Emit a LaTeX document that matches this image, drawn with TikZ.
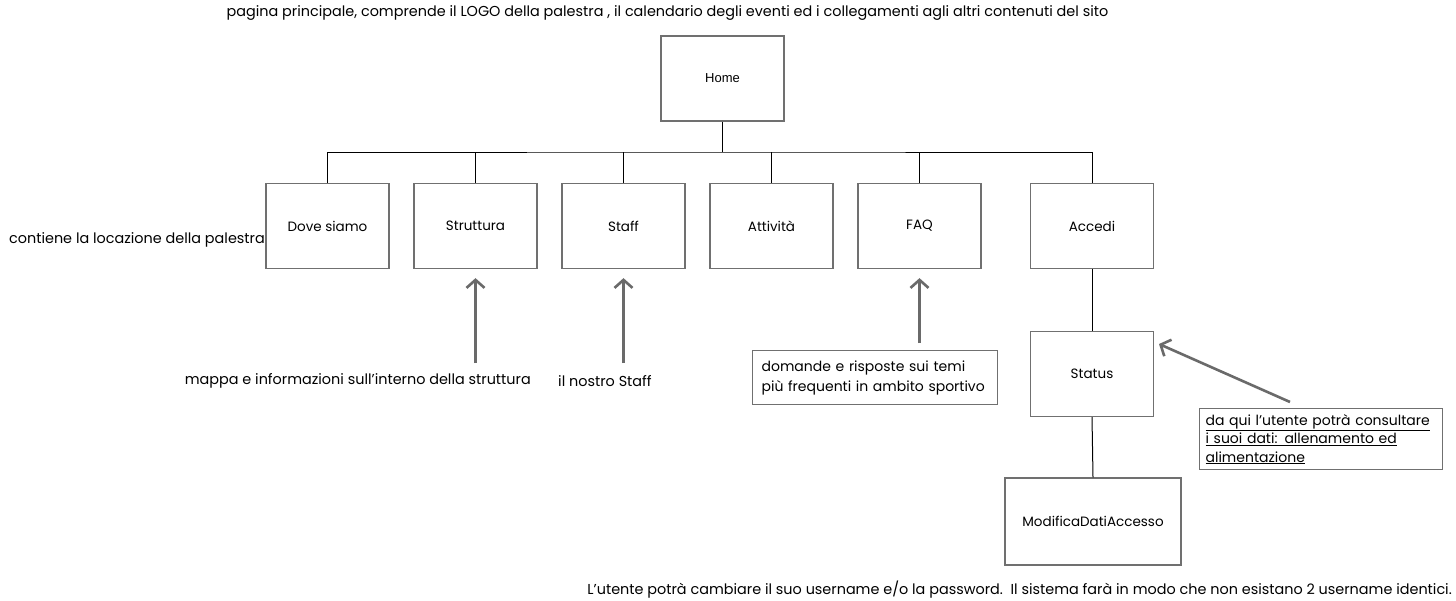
\documentclass[tikz,border=0pt]{standalone}
\usepackage{fontspec}
\setmainfont{Poppins}
\newfontfamily\homefont{Liberation Sans}
\usetikzlibrary{arrows.meta}
\definecolor{boxgray}{HTML}{707070}
\definecolor{arrgray}{HTML}{6A6A6A}
\begin{document}
\begin{tikzpicture}[x=1pt,y=-1pt,
  pg/.style={draw=boxgray,line width=1.3pt,minimum width=123pt,minimum height=85pt,inner sep=0pt,font=\fontsize{13.5}{15}\selectfont,fill=white},
  lbl/.style={inner sep=0pt,font=\fontsize{14.4}{16}\selectfont},
  note/.style={draw=boxgray,line width=1.2pt,inner xsep=9pt,inner ysep=5pt,align=left,font=\fontsize{14}{20}\selectfont},
  link/.style={black,line width=1pt},
  callout/.style={arrgray,line width=2.6pt,-{Straight Barb[length=8pt,width=18pt,line width=2.6pt]}}]
\useasboundingbox[fill=white] (0,0) rectangle (1456,600);
% pages
\node[pg,font=\homefont\fontsize{13}{15}\selectfont] (home) at (722.5,78.5) {Home};
\node[pg] (dove) at (327.5,226) {Dove siamo};
\node[pg] (strut) at (475.5,226) {Struttura};
\node[pg] (staff) at (623.5,226) {Staff};
\node[pg] (att) at (771.5,226) {Attività};
\node[pg] (faq) at (919.5,226) {FAQ};
\node[pg] (acc) at (1092,226) {Accedi};
\node[pg] (status) at (1092,374) {Status};
\node[pg,minimum width=176pt,minimum height=87pt] (mod) at (1093,521.5) {ModificaDatiAccesso};
% bus
\coordinate (bus) at (722.5,152);
\draw[link] (home.south) -- (bus);
\draw[link] (dove.north) |- (bus) -| (acc.north);
\foreach \n in {strut,staff,att,faq}{\draw[link] (\n.north) -- (\n.north |- bus);}
\draw[link] (acc.south) -- (status.north);
\draw[link] (status.south) -- (mod.north);
% labels
\node[lbl,anchor=center] (ttop) at (667.5,13) {pagina principale, comprende il LOGO della palestra , il calendario degli eventi ed i collegamenti agli altri contenuti del sito};
\node[lbl,anchor=east] (tdove) at (265,240) {contiene la locazione della palestra};
\node[lbl,anchor=east] (tstrut) at (531,381) {mappa e informazioni sull'interno della struttura};
\node[lbl,anchor=west] (tstaff) at (558,381) {il nostro Staff};
\node[lbl,anchor=east] (tbot) at (1452,590) {L'utente potrà cambiare il suo username e/o la password.\ \ Il sistema farà in modo che non esistano 2 username identici.};
\node[note,anchor=north west,text width=227pt,minimum height=54pt] (nfaq) at (752,350) {domande e risposte sui temi\\più frequenti in ambito sportivo};
\node[note,anchor=north west,text width=231pt,minimum height=61pt,font=\fontsize{14}{18.5}\selectfont,inner xsep=6pt,inner ysep=2pt] (nstat) at (1199,408) {\underline{da qui l'utente potrà consultare}\\\underline{i suoi dati: allenamento ed}\\\underline{alimentazione}};
% callouts
\coordinate (cs) at (475.5,363);
\coordinate (cf) at (623.5,363);
\coordinate (cq) at (919.5,343);
\coordinate (ct) at (1290,402);
\draw[callout] (cs) -- ([yshift=-9pt]strut.south);
\draw[callout] (cf) -- ([yshift=-9pt]staff.south);
\draw[callout] (cq) -- ([yshift=-9pt]faq.south);
\coordinate (ctip) at (1159,344);
\draw[callout] (ct) -- (ctip);
\end{tikzpicture}
\end{document}
